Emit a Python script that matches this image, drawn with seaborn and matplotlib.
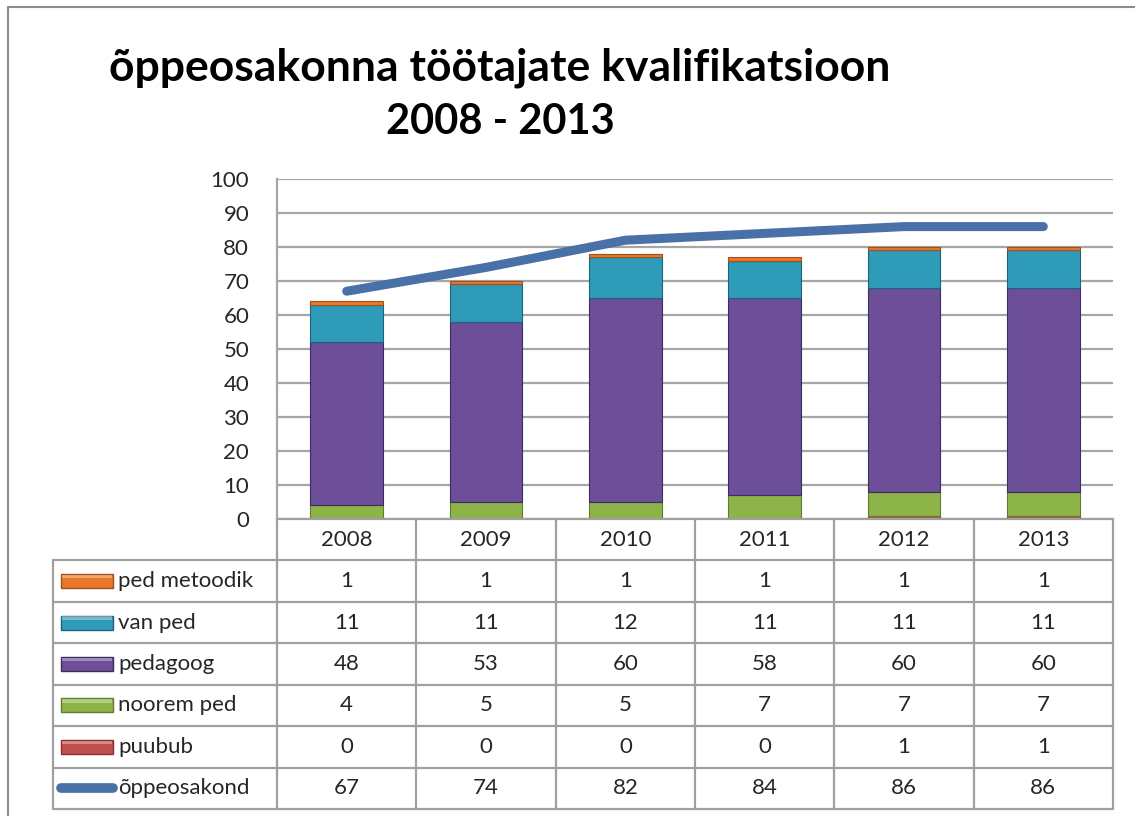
import numpy as np
import pandas as pd
import matplotlib
matplotlib.use("Agg")
import matplotlib.pyplot as plt
from matplotlib.patches import Rectangle
import seaborn as sns

years = ["2008", "2009", "2010", "2011", "2012", "2013"]
ped_metoodik = [1, 1, 1, 1, 1, 1]
van_ped = [11, 11, 12, 11, 11, 11]
pedagoog = [48, 53, 60, 58, 60, 60]
noorem_ped = [4, 5, 5, 7, 7, 7]
puubub = [0, 0, 0, 0, 1, 1]
oppeosakond = [67, 74, 82, 84, 86, 86]

title_line1 = "õppeosakonna töötajate kvalifikatsioon"
title_line2 = "2008 - 2013"
y_ticks = [0, 10, 20, 30, 40, 50, 60, 70, 80, 90, 100]

# stack order bottom -> top
stack = [
    ("puubub", puubub, "#C0504D", "#8E2F2D"),
    ("noorem ped", noorem_ped, "#8DB448", "#5F7D2C"),
    ("pedagoog", pedagoog, "#6C4F98", "#3F2C5E"),
    ("van ped", van_ped, "#2E9BB9", "#1C6377"),
    ("ped metoodik", ped_metoodik, "#E8782A", "#A0501A"),
]
# table row order (top -> bottom)
table_rows = [
    ("ped metoodik", ped_metoodik, "#E8782A", "#A0501A"),
    ("van ped", van_ped, "#2E9BB9", "#1C6377"),
    ("pedagoog", pedagoog, "#6C4F98", "#3F2C5E"),
    ("noorem ped", noorem_ped, "#8DB448", "#5F7D2C"),
    ("puubub", puubub, "#C0504D", "#8E2F2D"),
]
line_color = "#4A70A8"

sns.set_theme(style="white")
plt.rcParams["font.family"] = ["Lato", "DejaVu Sans"]

W, H = 1135, 816
fig = plt.figure(figsize=(W / 100, H / 100), dpi=100)

def px_axes(x0, y0, x1, y1):
    return fig.add_axes([x0 / W, 1 - y1 / H, (x1 - x0) / W, (y1 - y0) / H])

# outer chart border
fig.patches.append(Rectangle((8 / W, -0.01), 1.02, 1 - 7 / H + 0.01,
                             transform=fig.transFigure, fill=False,
                             edgecolor="#8C8C8C", linewidth=1.5, zorder=0))

fig.text(500 / W, 1 - 68 / H, title_line1, ha="center", va="center",
         fontsize=32, fontweight="bold", color="black")
fig.text(500 / W, 1 - 122 / H, title_line2, ha="center", va="center",
         fontsize=30, fontweight="bold", color="black")

grid_c = "#A6A6A6"
ax = px_axes(277, 179, 1113, 519)
df = pd.DataFrame({"year": years})
bottom = np.zeros(len(years))
for name, vals, col, edge in stack:
    sns.barplot(x=df["year"], y=np.array(vals, dtype=float), bottom=bottom,
                color=col, width=0.52, edgecolor=edge, linewidth=0.8,
                saturation=1, ax=ax, zorder=3)
    bottom = bottom + np.array(vals)

xpos = np.arange(len(years))
sns.lineplot(x=xpos, y=oppeosakond, color=line_color, linewidth=6.5,
             solid_capstyle="round", ax=ax, zorder=5)

ax.set_xlim(-0.5, len(years) - 0.5)
ax.set_ylim(0, 100)
ax.set_yticks(y_ticks)
ax.set_yticklabels([str(t) for t in y_ticks], fontsize=16)
ax.tick_params(axis="y", length=0, pad=20)
ax.set_xticks([])
ax.set_xlabel("")
ax.set_ylabel("")
ax.yaxis.grid(True, color=grid_c, linewidth=1.6, zorder=0)
ax.set_axisbelow(True)
for s in ["top", "right", "bottom"]:
    ax.spines[s].set_visible(False)
ax.spines["left"].set_color(grid_c)
ax.spines["left"].set_linewidth(1.6)

# data table
tab = px_axes(53, 519, 1113, 809)
cw = (1113 - 277) / len(years)
left_ext = (277 - 53) / cw
x_left = -0.5 - left_ext
nrows = len(table_rows) + 2
tab.set_xlim(x_left, len(years) - 0.5)
tab.set_ylim(nrows, 0)
tab.axis("off")
lc = "#A0A0A0"
lw = 1.6
tab.plot([-0.5, len(years) - 0.5], [0, 0], color=lc, lw=lw, clip_on=False)
for i, y in enumerate(years):
    tab.text(i, 0.5, y, ha="center", va="center", fontsize=16)
for k in range(len(years) + 1):
    tab.plot([k - 0.5, k - 0.5], [0, nrows], color=lc, lw=lw, clip_on=False)
for r in range(1, nrows + 1):
    tab.plot([x_left, len(years) - 0.5], [r, r], color=lc, lw=lw, clip_on=False)
tab.plot([x_left, x_left], [1, nrows], color=lc, lw=lw, clip_on=False)

key_w = 52 / cw
key_x0 = x_left + 8 / cw
lab_x = x_left + 65 / cw
all_rows = table_rows + [("õppeosakond", oppeosakond, line_color, line_color)]
for r, (name, vals, col, edge) in enumerate(all_rows):
    yc = r + 1.5
    if r < len(table_rows):
        tab.add_patch(Rectangle((key_x0, yc - 0.17), key_w, 0.34,
                                facecolor=col, edgecolor=edge, lw=1.0))
        tab.add_patch(Rectangle((key_x0 + 0.01, yc - 0.15), key_w - 0.02, 0.08,
                                facecolor="white", alpha=0.35, lw=0))
    else:
        tab.plot([x_left + 8 / cw, x_left + 60 / cw], [yc, yc], color=col,
                 lw=7, solid_capstyle="round")
    tab.text(lab_x, yc, name, ha="left", va="center", fontsize=16)
    for i, v in enumerate(vals):
        tab.text(i, yc, str(v), ha="center", va="center", fontsize=16)

fig.savefig("out.png", dpi=100)
